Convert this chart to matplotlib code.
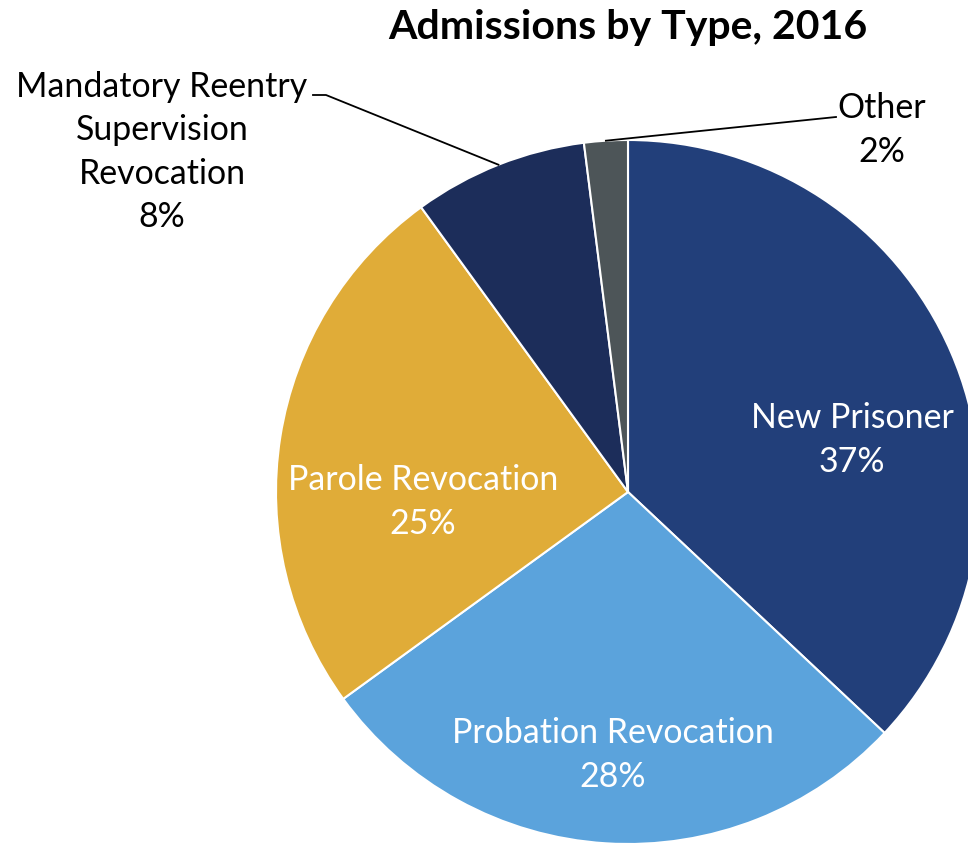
import numpy as np
import matplotlib.pyplot as plt

categories = ["New Prisoner", "Probation Revocation", "Parole Revocation",
              "Mandatory Reentry\nSupervision\nRevocation", "Other"]
shares = [37, 28, 25, 8, 2]
colors = ["#223F7A", "#5BA3DC", "#E0AC38", "#1C2D5A", "#4D5558"]
title = "Admissions by Type, 2016"

plt.rcParams["font.family"] = ["Lato", "DejaVu Sans"]

W, H = 968, 844
fig = plt.figure(figsize=(W / 100, H / 100), dpi=100)
ax = fig.add_axes([0, 0, 1, 1])

cx, cy, r = 628, H - 492, 352
wedges, _ = ax.pie(shares, colors=colors, startangle=90, counterclock=False,
                   center=(cx, cy), radius=r, frame=True,
                   wedgeprops=dict(edgecolor="white", linewidth=1.5))
ax.set_xlim(0, W)
ax.set_ylim(0, H)
ax.set_axis_off()

fs = 24.4
ls = 1.44
# labels inside the pie
inside = {0: (852, H - 440), 1: (613, H - 755), 2: (423, H - 502)}
for i, (x, y) in inside.items():
    ax.text(x, y, f"{categories[i]}\n{shares[i]}%", color="white", fontsize=fs,
            ha="center", va="center", linespacing=ls)


def edge_point(w):
    mid = np.deg2rad((w.theta1 + w.theta2) / 2)
    return cx + r * np.cos(mid), cy + r * np.sin(mid)


# Mandatory Reentry label with leader line
ex, ey = edge_point(wedges[3])
ax.plot([313, 326, ex], [H - 95, H - 95, ey], color="black", lw=1.3)
ax.text(162, H - 152, f"{categories[3]}\n{shares[3]}%", color="black", fontsize=fs,
        ha="center", va="center", linespacing=ls)

# Other label with leader line
ex, ey = edge_point(wedges[4])
ax.plot([ex, 836], [ey, H - 117], color="black", lw=1.3)
ax.text(882, H - 130, f"{categories[4]}\n{shares[4]}%", color="black", fontsize=fs,
        ha="center", va="center", linespacing=ls)

ax.text(628, H - 28, title, fontsize=29.5, fontweight="bold", ha="center", va="center")

fig.savefig("out.png", dpi=100)
